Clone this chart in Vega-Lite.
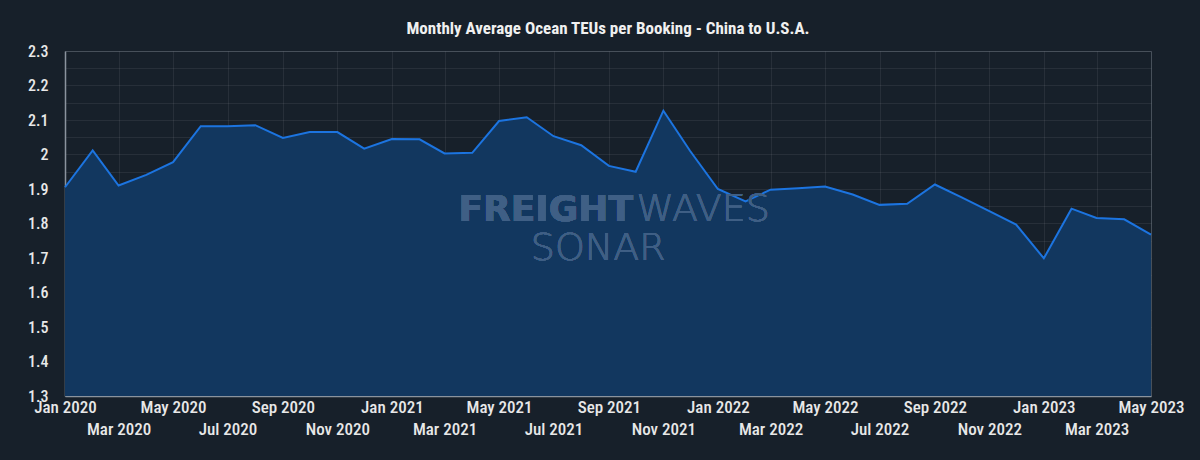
{
  "$schema": "https://vega.github.io/schema/vega-lite/v6.json",
  "autosize": {"type": "none"},
  "width": 1086,
  "height": 345,
  "padding": {"left": 65, "top": 51, "right": 49, "bottom": 64},
  "background": "#17202a",
  "title": {
    "text": "Monthly Average Ocean TEUs per Booking - China to U.S.A.",
    "font": "Roboto Condensed, Roboto",
    "fontSize": 17,
    "fontWeight": "bold",
    "color": "#f0f0f0",
    "anchor": "middle",
    "offset": 5
  },
  "config": {
    "view": {"stroke": "#3a434e", "strokeWidth": 1},
    "axis": {
      "labelFont": "Roboto Condensed, Roboto",
      "labelFontWeight": 500,
      "labelColor": "#e8e8e8",
      "ticks": false,
      "domainColor": "#8a939e",
      "domainWidth": 1.5,
      "gridColor": "#ffffff",
      "gridOpacity": 0.07,
      "title": null
    }
  },
  "data": {
    "values": [
      {"month": "2020-01-01", "teu": 1.905},
      {"month": "2020-02-01", "teu": 2.012},
      {"month": "2020-03-01", "teu": 1.910},
      {"month": "2020-04-01", "teu": 1.941},
      {"month": "2020-05-01", "teu": 1.978},
      {"month": "2020-06-01", "teu": 2.082},
      {"month": "2020-07-01", "teu": 2.082},
      {"month": "2020-08-01", "teu": 2.085},
      {"month": "2020-09-01", "teu": 2.048},
      {"month": "2020-10-01", "teu": 2.065},
      {"month": "2020-11-01", "teu": 2.065},
      {"month": "2020-12-01", "teu": 2.017},
      {"month": "2021-01-01", "teu": 2.045},
      {"month": "2021-02-01", "teu": 2.044},
      {"month": "2021-03-01", "teu": 2.003},
      {"month": "2021-04-01", "teu": 2.005},
      {"month": "2021-05-01", "teu": 2.097},
      {"month": "2021-06-01", "teu": 2.108},
      {"month": "2021-07-01", "teu": 2.053},
      {"month": "2021-08-01", "teu": 2.027},
      {"month": "2021-09-01", "teu": 1.967},
      {"month": "2021-10-01", "teu": 1.950},
      {"month": "2021-11-01", "teu": 2.127},
      {"month": "2021-12-01", "teu": 2.010},
      {"month": "2022-01-01", "teu": 1.900},
      {"month": "2022-02-01", "teu": 1.864},
      {"month": "2022-03-01", "teu": 1.898},
      {"month": "2022-04-01", "teu": 1.902},
      {"month": "2022-05-01", "teu": 1.907},
      {"month": "2022-06-01", "teu": 1.884},
      {"month": "2022-07-01", "teu": 1.854},
      {"month": "2022-08-01", "teu": 1.857},
      {"month": "2022-09-01", "teu": 1.913},
      {"month": "2022-10-01", "teu": 1.876},
      {"month": "2022-11-01", "teu": 1.836},
      {"month": "2022-12-01", "teu": 1.797},
      {"month": "2023-01-01", "teu": 1.699},
      {"month": "2023-02-01", "teu": 1.843},
      {"month": "2023-03-01", "teu": 1.816},
      {"month": "2023-04-01", "teu": 1.812},
      {"month": "2023-05-01", "teu": 1.768}
    ]
  },
  "encoding": {
    "x": {
      "field": "month",
      "type": "temporal",
      "scale": {"type": "utc", "nice": false},
      "axis": {
        "tickCount": {"interval": "month", "step": 2},
        "labelOverlap": false,
        "labelFlush": false,
        "labelAlign": "center",
        "labelFontSize": 17,
        "labelBaseline": "top",
        "labelPadding": 3,
        "labelLineHeight": 22,
        "labelExpr": "utcmonth(datum.value) % 4 == 2 ? ['', utcFormat(datum.value, '%b %Y')] : utcFormat(datum.value, '%b %Y')"
      }
    },
    "y": {
      "field": "teu",
      "type": "quantitative",
      "scale": {"domain": [1.3, 2.3], "nice": false, "zero": false},
      "axis": {
        "values": [1.3, 1.35, 1.4, 1.45, 1.5, 1.55, 1.6, 1.65, 1.7, 1.75, 1.8, 1.85, 1.9, 1.95, 2.0, 2.05, 2.1, 2.15, 2.2, 2.25, 2.3],
        "labelFontSize": 16,
        "labelPadding": 17,
        "labelExpr": "abs(datum.value * 10 - round(datum.value * 10)) < 0.001 ? format(datum.value, '~g') : ''"
      }
    }
  },
  "layer": [
    {
      "mark": {"type": "area", "color": "#12375f", "opacity": 1},
      "encoding": {"y2": {"datum": 1.3}}
    },
    {
      "mark": {"type": "line", "color": "#1c74e0", "strokeWidth": 2}
    },
    {
      "mark": {"type": "text", "text": "FREIGHT", "align": "right", "baseline": "middle", "font": "DejaVu Sans", "fontWeight": 900, "fontSize": 36, "color": "#3f5f85"},
      "encoding": {
        "x": {"datum": {"year": 2021, "month": 9, "date": 28, "utc": true}, "type": "temporal"},
        "y": {"datum": 1.84}
      }
    },
    {
      "mark": {"type": "text", "text": "WAVES", "align": "left", "baseline": "middle", "font": "DejaVu Sans", "fontWeight": 200, "fontSize": 38, "color": "#3f5f85"},
      "encoding": {
        "x": {"datum": {"year": 2021, "month": 10, "date": 2, "utc": true}, "type": "temporal"},
        "y": {"datum": 1.84}
      }
    },
    {
      "mark": {"type": "text", "text": "SONAR", "align": "center", "baseline": "middle", "font": "DejaVu Sans", "fontWeight": 200, "fontSize": 38, "color": "#3f5f85"},
      "encoding": {
        "x": {"datum": {"year": 2021, "month": 8, "date": 20, "utc": true}, "type": "temporal"},
        "y": {"datum": 1.726}
      }
    }
  ]
}
